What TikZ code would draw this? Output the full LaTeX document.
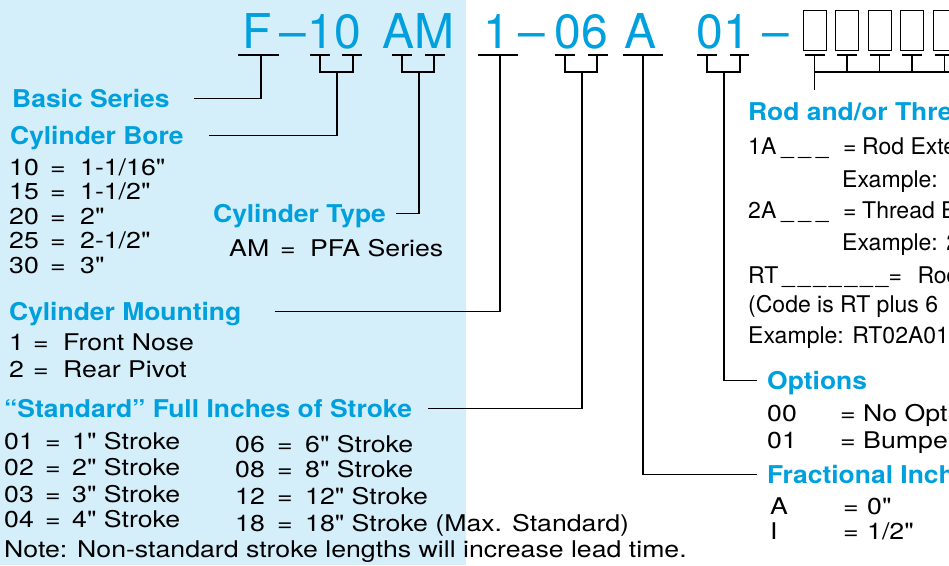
\documentclass[tikz,border=0pt]{standalone}
\usepackage{fontspec}
\setmainfont{TeX Gyre Heros}[Ligatures=TeXOff]
\newfontfamily\bodyfont{TeX Gyre Heros}[Ligatures=TeXOff,FakeStretch=1.16]
\newfontfamily\headfont{TeX Gyre Heros}[Ligatures=TeXOff,FakeStretch=1.08]
\usetikzlibrary{positioning}
\definecolor{codeblue}{RGB}{0,160,222}
\definecolor{panelblue}{RGB}{212,238,250}
\newcommand{\keyeq}[4]{\makebox[#1][l]{#2}\makebox[#3][l]{=}#4}

\begin{document}
\begin{tikzpicture}[
    x=1pt,y=-1pt,
    head/.style={anchor=base west,inner sep=0pt,text=codeblue,
      font=\headfont\fontsize{24.5}{24.5}\selectfont\bfseries},
    item/.style={anchor=base west,inner sep=0pt,font=\bodyfont\fontsize{23}{23}\selectfont},
    ritem/.style={anchor=base west,inner sep=0pt,font=\fontsize{23}{23}\selectfont},
    code/.style={anchor=base,inner sep=0pt,text=codeblue,font=\fontsize{48}{48}\selectfont},
    slot/.style={draw,line width=0.9pt},
    tick/.style={line width=1.3pt},
    link/.style={line width=1.3pt}
  ]
    \useasboundingbox (0,0) rectangle (949,565);
    \clip (0,0) rectangle (949,565);
    \fill[panelblue] (0,0) rectangle (466,565);

    % model code
    \node[code] (cF) at (257,48) {F};
    \node[code] (d1) at (293,48) {–};
    \node[code] (c10) at (334,48) {10};
    \node[code] (cAM) at (418,48) {AM};
    \node[code] (c1) at (497,48) {1};
    \node[code] (d2) at (532,48) {–};
    \node[code] (c06) at (581,48) {06};
    \node[code] (cA) at (640,48) {A};
    \node[code] (c01) at (723,48) {01};
    \node[code] (d3) at (776,48) {–};
    \foreach \x in {803,835.5,868,900.5,933}
      \draw[slot] (\x,10) rectangle ++(23,40);

    % ticks and brackets
    \draw[tick] (238,55) -- (279,55);
    \draw[tick] (310,55) -- (330,55) (342,55) -- (362,55);
    \draw[tick] (320,55) -- (320,72) -- (353,72) -- (353,55);
    \draw[tick] (392,55) -- (412,55) (425,55) -- (445,55);
    \draw[tick] (402,55) -- (402,72) -- (434,72) -- (434,55);
    \draw[tick] (478,55) -- (518,55);
    \draw[tick] (555,55) -- (575,55) (588,55) -- (608,55);
    \draw[tick] (565,55) -- (565,72) -- (597,72) -- (597,55);
    \draw[tick] (623,55) -- (663,55);
    \draw[tick] (697,55) -- (717,55) (730,55) -- (749,55);
    \draw[tick] (707,55) -- (707,72) -- (740,72) -- (740,55);
    \foreach \x in {814.5,847,879.5,912,944.5}
      \draw[tick] (\x-10,55) -- (\x+10,55) (\x,55) -- (\x,72);
    \draw[tick] (814.5,72) -- (960,72);

    \coordinate (stemF) at (261,55);
    \coordinate (stem10) at (337,72);
    \coordinate (stemAM) at (419,72);
    \coordinate (stem1) at (500,55);
    \coordinate (stem06) at (582,72);
    \coordinate (stemA) at (643,55);
    \coordinate (stem01) at (724,72);
    \coordinate (stemRod) at (814.5,72);
    \coordinate (rodEnd) at (814.5,90);

    % left side
    \node[head] (basic) at (12,107) {Basic Series};
    \node[head] (bore) at (10,144) {Cylinder Bore};
    \node[item] (b10) at (9,175) {\keyeq{41pt}{10}{30pt}{1-1/16"}};
    \node[item] (b15) at (9,199.5) {\keyeq{41pt}{15}{30pt}{1-1/2"}};
    \node[item] (b20) at (9,224) {\keyeq{41pt}{20}{30pt}{2"}};
    \node[item] (b25) at (9,248.5) {\keyeq{41pt}{25}{30pt}{2-1/2"}};
    \node[item] (b30) at (9,273) {\keyeq{41pt}{30}{30pt}{3"}};
    \node[head] (type) at (213,222) {Cylinder Type};
    \node[item] (tAM) at (229,256) {\keyeq{51pt}{AM}{30pt}{PFA Series}};
    \node[head] (mount) at (9,320) {Cylinder Mounting};
    \node[item] (m1) at (9,350) {\keyeq{24pt}{1}{30pt}{Front Nose}};
    \node[item] (m2) at (9,377) {\keyeq{24pt}{2}{30pt}{Rear Pivot}};
    \node[head] (stroke) at (4,417) {“Standard” Full Inches of Stroke};
    \node[item] (k01) at (4,449) {\keyeq{41pt}{01}{27pt}{1" Stroke}};
    \node[item] (k02) at (4,475) {\keyeq{41pt}{02}{27pt}{2" Stroke}};
    \node[item] (k03) at (4,502) {\keyeq{41pt}{03}{27pt}{3" Stroke}};
    \node[item] (k04) at (4,527) {\keyeq{41pt}{04}{27pt}{4" Stroke}};
    \node[item] (k06) at (235,452) {\keyeq{42pt}{06}{28pt}{6" Stroke}};
    \node[item] (k08) at (235,477) {\keyeq{42pt}{08}{28pt}{8" Stroke}};
    \node[item] (k12) at (235,504) {\keyeq{42pt}{12}{28pt}{12" Stroke}};
    \node[item] (k18) at (235,531) {\keyeq{42pt}{18}{28pt}{18" Stroke (Max. Standard)}};
    \node[item] (note) at (4,557) {Note: Non-standard stroke lengths will increase lead time.};

    % right side
    \node[head] (rod) at (748,120) {Rod and/or Thre};
    \node[ritem] (r1) at (748,154) {\keyeq{95pt}{\makebox[33pt][l]{1A}\_\hspace{4.5pt}\_\hspace{4.5pt}\_}{19pt}{Rod Exte}};
    \node[ritem] (r1x) at (842,187) {Example:};
    \node[ritem] (r2) at (748,218) {\keyeq{95pt}{\makebox[33pt][l]{2A}\_\hspace{4.5pt}\_\hspace{4.5pt}\_}{19pt}{Thread E}};
    \node[ritem] (r2x) at (842,250) {Example: 2};
    \node[ritem] (r3) at (748,283) {\makebox[34pt][l]{RT}\_\hspace{2.8pt}\_\hspace{2.8pt}\_\hspace{2.8pt}\_\hspace{2.8pt}\_\hspace{2.8pt}\_\hspace{2.8pt}\_\makebox[29pt][l]{=}Rod};
    \node[ritem] (r3c) at (748,312) {(Code is RT plus 6};
    \node[ritem] (r3x) at (748,343) {Example: RT02A01};
    \node[head] (options) at (767,389) {Options};
    \node[item] (o00) at (767,421) {\keyeq{73pt}{00}{23pt}{No Opt}};
    \node[item] (o01) at (767,448) {\keyeq{73pt}{01}{23pt}{Bumpe}};
    \node[head] (frac) at (767,483) {Fractional Inch};
    \node[item] (fA) at (770,514) {\keyeq{73pt}{A}{24pt}{0"}};
    \node[item] (fI) at (770,539) {\keyeq{73pt}{I}{24pt}{1/2"}};

    % connectors
    \draw[link] ([xshift=24pt,yshift=8.5pt]basic.base east) -| (stemF);
    \draw[link] ([xshift=25pt,yshift=8.5pt]bore.base east) -| (stem10);
    \draw[link] ([xshift=10pt,yshift=8.5pt]type.base east) -| (stemAM);
    \draw[link] ([xshift=33pt,yshift=8.5pt]mount.base east) -| (stem1);
    \draw[link] ([xshift=16pt,yshift=8.5pt]stroke.base east) -| (stem06);
    \draw[link] (stemA) |- ([xshift=-10pt,yshift=8.5pt]frac.base west);
    \draw[link] (stem01) |- ([xshift=-10pt,yshift=8.5pt]options.base west);
    \draw[link] (stemRod) -- (rodEnd);
  \end{tikzpicture}
\end{document}
